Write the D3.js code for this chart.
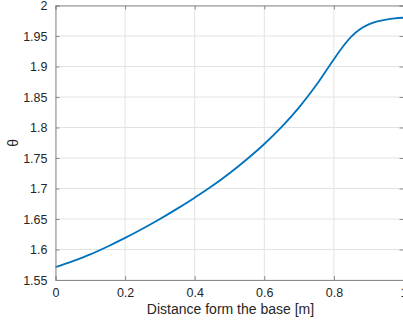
<!DOCTYPE html>
<html>
<head>
<meta charset="utf-8">
<script src="https://cdn.jsdelivr.net/npm/d3@7"></script>
<style>
  html, body { margin: 0; padding: 0; background: #fff; overflow: hidden; }
  svg text { font-family: "Liberation Sans", Arial, sans-serif; fill: #262626; }
</style>
</head>
<body>
<div id="chart"></div>
<script>
// distance along the beam [m] and the angle theta
var distance = [0, 0.05, 0.1, 0.15, 0.2, 0.25, 0.3, 0.35, 0.4, 0.45, 0.5, 0.55, 0.6,
                0.65, 0.7, 0.75, 0.8, 0.825, 0.85, 0.875, 0.9, 0.925, 0.95, 0.975, 1.0];
var theta = [1.571, 1.581, 1.592, 1.605, 1.619, 1.634, 1.650, 1.667, 1.685, 1.704, 1.725, 1.748, 1.773,
             1.801, 1.833, 1.870, 1.912, 1.932, 1.949, 1.961, 1.969, 1.974, 1.977, 1.979, 1.980];
var xTicks = [0, 0.2, 0.4, 0.6, 0.8, 1];
var yTicks = [1.55, 1.6, 1.65, 1.7, 1.75, 1.8, 1.85, 1.9, 1.95, 2];

var width = 403, height = 324;
var margin = {top: 5.5, right: -0.5, bottom: 44, left: 55.5};
var w = width - margin.left - margin.right;
var h = height - margin.top - margin.bottom;

var svg = d3.select("#chart").append("svg")
    .attr("width", width)
    .attr("height", height);

var g = svg.append("g")
    .attr("transform", "translate(" + margin.left + "," + margin.top + ")");

var x = d3.scaleLinear().domain([0, 1]).range([0, w]);
var y = d3.scaleLinear().domain([1.55, 2]).range([h, 0]);

// grid lines
g.append("g").selectAll("line.gx").data(xTicks).enter().append("line")
    .attr("x1", function(d) { return x(d); })
    .attr("x2", function(d) { return x(d); })
    .attr("y1", 0).attr("y2", h)
    .attr("stroke", "#e3e3e3").attr("stroke-width", 1);
g.append("g").selectAll("line.gy").data(yTicks).enter().append("line")
    .attr("y1", function(d) { return y(d); })
    .attr("y2", function(d) { return y(d); })
    .attr("x1", 0).attr("x2", w)
    .attr("stroke", "#e3e3e3").attr("stroke-width", 1);

// curve
var line = d3.line()
    .x(function(d, i) { return x(distance[i]); })
    .y(function(d) { return y(d); })
    .curve(d3.curveMonotoneX);

g.append("path")
    .datum(theta)
    .attr("d", line)
    .attr("fill", "none")
    .attr("stroke", "#0072BD")
    .attr("stroke-width", 1.8);

// axes, MATLAB style: ticks inside, box around
var fmt = function(d) { return d3.format("")(d); };
var tk = 4;

var xAxis = g.append("g")
    .attr("transform", "translate(0," + h + ")")
    .call(d3.axisBottom(x).tickValues(xTicks).tickSize(-tk).tickPadding(8).tickFormat(fmt));
var xTop = g.append("g")
    .call(d3.axisTop(x).tickValues(xTicks).tickSize(-tk).tickFormat(""));
var yAxis = g.append("g")
    .call(d3.axisLeft(y).tickValues(yTicks).tickSize(-tk).tickPadding(8).tickFormat(fmt));
var yRight = g.append("g")
    .attr("transform", "translate(" + w + ",0)")
    .call(d3.axisRight(y).tickValues(yTicks).tickSize(-tk).tickFormat(""));

[xAxis, xTop, yAxis, yRight].forEach(function(a) {
    a.select(".domain").attr("stroke", "#8a8a8a").attr("stroke-width", 1);
    a.selectAll(".tick line").attr("stroke", "#8a8a8a");
    a.selectAll("text").attr("font-size", 12.5).attr("fill", "#262626")
        .attr("font-family", "Liberation Sans, Arial, sans-serif");
});

// labels
svg.append("text")
    .attr("x", margin.left + w / 2 + 1)
    .attr("y", 314)
    .attr("text-anchor", "middle")
    .attr("font-size", 14)
    .text("Distance form the base [m]");

svg.append("text")
    .attr("transform", "translate(18," + (margin.top + h / 2) + ") rotate(-90)")
    .attr("text-anchor", "middle")
    .attr("font-size", 14)
    .text("θ");
</script>
</body>
</html>
